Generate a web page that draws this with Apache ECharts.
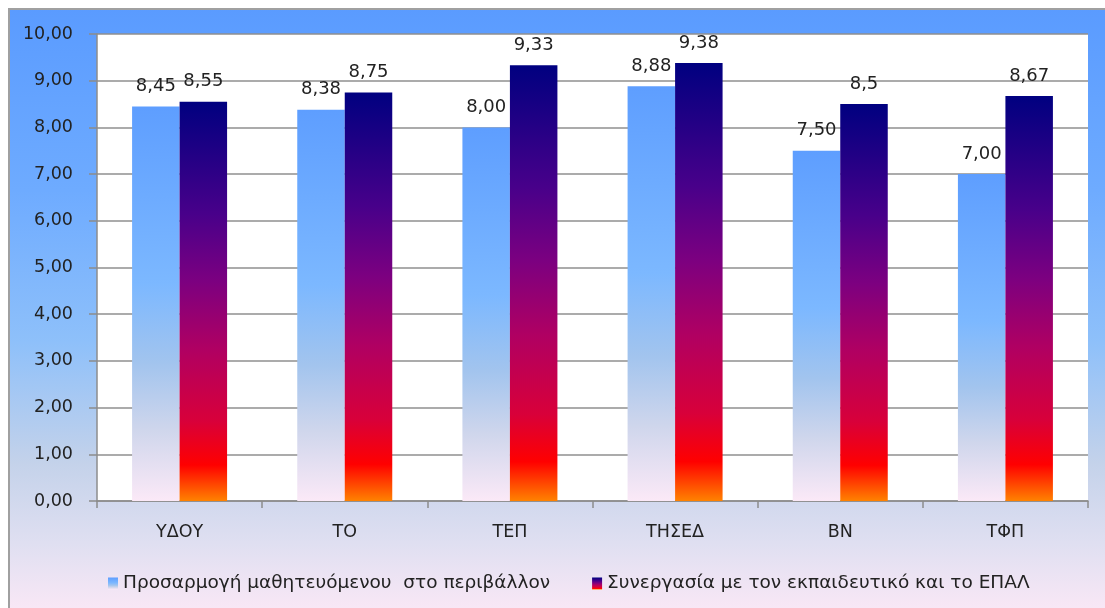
<!DOCTYPE html>
<html>
<head>
<meta charset="utf-8">
<script src="https://cdn.jsdelivr.net/npm/echarts@6/dist/echarts.min.js"></script>
<style>
html,body{margin:0;padding:0;background:#fff;}
#c{width:1105px;height:608px;}
</style>
</head>
<body>
<div id="c"></div>
<script>
const categories = ["ΥΔΟΥ", "ΤΟ", "ΤΕΠ", "ΤΗΣΕΔ", "ΒΝ", "ΤΦΠ"];
const seriesNames = ["Προσαρμογή μαθητευόμενου  στο περιβάλλον", "Συνεργασία με τον εκπαιδευτικό και το ΕΠΑΛ"];
const adaptation = [8.45, 8.38, 8.00, 8.88, 7.50, 7.00];
const cooperation = [8.55, 8.75, 9.33, 9.38, 8.50, 8.67];
const cooperationLabels = ["8,55", "8,75", "9,33", "9,38", "8,5", "8,67"];
const yTicks = [0, 1, 2, 3, 4, 5, 6, 7, 8, 9, 10];

const chart = echarts.init(document.getElementById('c'), null, {renderer: 'canvas'});
const FONT = 'DejaVu Sans';
const TXT = '#222';

const grad1 = new echarts.graphic.LinearGradient(0, 0, 0, 1, [
  {offset: 0, color: '#5e9eff'},
  {offset: 0.45, color: '#7cb8ff'},
  {offset: 0.65, color: '#a2c4ee'},
  {offset: 0.82, color: '#cfd6ec'},
  {offset: 1, color: '#fbe9f7'}
]);
const grad2 = new echarts.graphic.LinearGradient(0, 0, 0, 1, [
  {offset: 0, color: '#000080'},
  {offset: 0.28, color: '#48008a'},
  {offset: 0.45, color: '#7c0080'},
  {offset: 0.62, color: '#b00062'},
  {offset: 0.8, color: '#d8003a'},
  {offset: 0.91, color: '#ff0000'},
  {offset: 1, color: '#ff8200'}
]);
const bgGrad = new echarts.graphic.LinearGradient(0, 0, 0, 1, [
  {offset: 0, color: '#5a9bff'},
  {offset: 0.3, color: '#6eabff'},
  {offset: 0.55, color: '#8ec0fa'},
  {offset: 0.75, color: '#c4d2ea'},
  {offset: 0.88, color: '#dfdff1'},
  {offset: 1, color: '#fbe8f6'}
]);

chart.setOption({
  animation: false,
  graphic: [{
    type: 'rect', z: -10, silent: true,
    shape: {x: 9, y: 9, width: 1200, height: 605},
    style: {fill: bgGrad, stroke: '#a0a0a0', lineWidth: 2}
  }],
  grid: {
    left: 97, right: 17, top: 34, bottom: 107,
    show: true, backgroundColor: '#ffffff', borderWidth: 0
  },
  legend: {
    left: 103, top: 569,
    itemWidth: 10, itemHeight: 12, itemGap: 42,
    icon: 'rect',
    textStyle: {fontFamily: FONT, fontSize: 18.5, color: TXT, padding: [0, 0, 0, 0]},
    data: seriesNames
  },
  xAxis: {
    type: 'category',
    data: categories,
    axisLine: {lineStyle: {color: '#8c8c8c', width: 1.5}},
    axisTick: {show: true, length: 7, lineStyle: {color: '#8c8c8c', width: 1.5}},
    axisLabel: {fontFamily: FONT, fontSize: 17.5, color: TXT, margin: 22}
  },
  yAxis: {
    type: 'value',
    min: yTicks[0], max: yTicks[yTicks.length - 1], interval: 1,
    axisLine: {show: true, lineStyle: {color: '#8c8c8c', width: 1.5}},
    axisTick: {show: true, length: 8, lineStyle: {color: '#8c8c8c', width: 1.5}},
    splitLine: {lineStyle: {color: '#8f8f8f', width: 1.5}},
    axisLabel: {
      fontFamily: FONT, fontSize: 17.5, color: TXT, margin: 24,
      formatter: v => v.toFixed(2).replace('.', ',')
    }
  },
  series: [
    {
      name: seriesNames[0], type: 'bar', data: adaptation,
      barWidth: 47.5, barGap: '0%',
      itemStyle: {color: grad1},
      label: {
        show: true, position: 'top', distance: 11,
        fontFamily: FONT, fontSize: 18, color: TXT,
        formatter: p => p.value.toFixed(2).replace('.', ',')
      }
    },
    {
      name: seriesNames[1], type: 'bar', data: cooperation,
      barWidth: 47.5, barGap: '0%',
      itemStyle: {color: grad2},
      label: {
        show: true, position: 'top', distance: 11,
        fontFamily: FONT, fontSize: 18, color: TXT,
        formatter: p => cooperationLabels[p.dataIndex]
      }
    }
  ]
});
</script>
</body>
</html>
